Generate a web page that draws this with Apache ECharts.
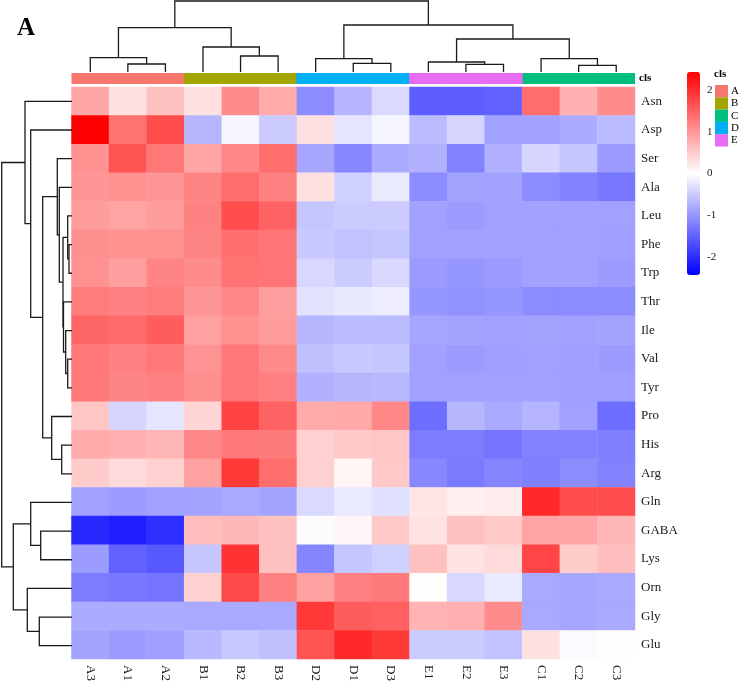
<html>
<head>
    <meta charset="utf-8">
    <title>Heatmap A</title>
    <script src="https://cdn.jsdelivr.net/npm/echarts@6/dist/echarts.min.js"></script>
    <style>
        body { margin: 0; background: #fff; }
    </style>
</head>
<body>
    <div id="main" style="width:740px;height:684px;"></div>
    <script type="text/javascript">
        // samples (columns) and their groups, in dendrogram order
        var colNames = ['A3', 'A1', 'A2', 'B1', 'B2', 'B3', 'D2', 'D1', 'D3', 'E1', 'E2', 'E3', 'C1', 'C2', 'C3'];
        var colClass = ['A', 'A', 'A', 'B', 'B', 'B', 'D', 'D', 'D', 'E', 'E', 'E', 'C', 'C', 'C'];
        var classNames = ['A', 'B', 'C', 'D', 'E'];
        var classColors = ['#F8766D', '#A3A500', '#00BF7D', '#00B0F6', '#E76BF3'];

        // amino acids (rows), in dendrogram order
        var rowNames = ['Asn', 'Asp', 'Ser', 'Ala', 'Leu', 'Phe', 'Trp', 'Thr', 'Ile', 'Val',
            'Tyr', 'Pro', 'His', 'Arg', 'Gln', 'GABA', 'Lys', 'Orn', 'Gly', 'Glu'];

        // scaled values, one row per amino acid
        var values = [
            [0.85, 0.30, 0.60, 0.30, 1.10, 0.80, -1.10, -0.72, -0.35, -1.55, -1.55, -1.50, 1.40, 0.75, 1.10],
            [2.44, 1.35, 1.70, -0.70, -0.10, -0.50, 0.30, -0.25, -0.10, -0.65, -0.40, -0.90, -0.90, -0.80, -0.65],
            [1.05, 1.65, 1.30, 0.85, 1.15, 1.40, -0.85, -1.15, -0.80, -0.75, -1.20, -0.75, -0.40, -0.55, -0.95],
            [1.00, 1.05, 1.00, 1.17, 1.40, 1.20, 0.30, -0.45, -0.20, -1.10, -0.88, -0.90, -1.10, -1.20, -1.30],
            [0.95, 0.88, 0.95, 1.20, 1.70, 1.50, -0.55, -0.50, -0.50, -0.90, -0.95, -0.90, -0.90, -0.90, -0.90],
            [1.07, 1.05, 1.05, 1.17, 1.38, 1.33, -0.52, -0.58, -0.55, -0.90, -0.90, -0.90, -0.90, -0.90, -0.92],
            [1.05, 0.92, 1.17, 1.10, 1.35, 1.33, -0.38, -0.50, -0.36, -0.97, -1.00, -0.97, -0.90, -0.90, -0.95],
            [1.25, 1.20, 1.25, 1.00, 1.15, 0.93, -0.28, -0.22, -0.17, -1.00, -1.05, -1.00, -1.10, -1.10, -1.10],
            [1.45, 1.43, 1.55, 0.90, 1.05, 0.95, -0.70, -0.65, -0.65, -0.85, -0.88, -0.90, -0.88, -0.90, -0.88],
            [1.30, 1.22, 1.30, 1.03, 1.30, 1.12, -0.60, -0.52, -0.55, -0.90, -0.95, -0.92, -0.90, -0.92, -0.95],
            [1.28, 1.17, 1.22, 1.07, 1.30, 1.22, -0.75, -0.70, -0.68, -0.90, -0.90, -0.90, -0.90, -0.92, -0.92],
            [0.55, -0.40, -0.25, 0.40, 1.80, 1.50, 0.80, 0.82, 1.15, -1.40, -0.70, -0.82, -0.72, -0.90, -1.40],
            [0.80, 0.75, 0.70, 1.15, 1.28, 1.27, 0.45, 0.52, 0.55, -1.25, -1.25, -1.33, -1.20, -1.20, -1.22],
            [0.50, 0.35, 0.45, 0.90, 1.90, 1.40, 0.45, 0.10, 0.52, -1.15, -1.27, -1.17, -1.22, -1.10, -1.20],
            [-0.90, -0.95, -0.90, -0.88, -0.82, -0.88, -0.35, -0.20, -0.30, 0.25, 0.15, 0.18, 2.05, 1.70, 1.70],
            [-2.05, -2.15, -2.00, 0.63, 0.68, 0.60, -0.03, 0.08, 0.52, 0.27, 0.60, 0.52, 0.87, 0.87, 0.70],
            [-0.95, -1.50, -1.60, -0.55, 1.95, 0.60, -1.17, -0.55, -0.45, 0.60, 0.27, 0.35, 1.78, 0.50, 0.63],
            [-1.25, -1.30, -1.33, 0.45, 1.75, 1.22, 0.90, 1.22, 1.27, 0.03, -0.38, -0.20, -0.82, -0.85, -0.82],
            [-0.80, -0.80, -0.80, -0.82, -0.82, -0.82, 1.90, 1.55, 1.52, 0.72, 0.75, 1.10, -0.82, -0.85, -0.82],
            [-0.87, -0.95, -0.92, -0.68, -0.52, -0.60, 1.65, 2.05, 1.90, -0.50, -0.50, -0.58, 0.30, -0.05, 0.02]
        ];

        // colour key range and its tick labels
        var keyMin = -2.44;
        var keyMax = 2.44;
        var keyTicks = [-2, -1, 0, 1, 2];

        // column dendrogram, hclust style: negative = leaf (1-based), positive = earlier merge
        var colMerge = [[-2, -3], [-1, 1], [-5, -6], [-4, 3], [2, 4], [-8, -9], [-7, 6],
            [-11, -12], [-10, 8], [-14, -15], [-13, 10], [9, 11], [7, 12], [5, 13]];
        var colHeight = [8, 14.3, 16, 25, 44.3, 8.7, 13.3, 7.7, 10, 6.7, 13.3, 33, 47, 71];

        // row dendrogram
        var rowMerge = [[-6, -7], [-5, 1], [-10, -11], [-9, 3], [-8, 4], [2, 5], [-4, 6], [-3, 7],
            [-13, -14], [-12, 9], [8, 10], [-2, 11], [-1, 12], [-16, -17], [-15, 14],
            [-19, -20], [-18, 16], [15, 17], [13, 18]];
        var rowHeight = [3, 4.3, 4.3, 6.3, 8.5, 9, 12.7, 14.7, 10.3, 20.3, 29.3, 41.3, 47,
            31.3, 41.3, 32.7, 44.7, 58.7, 70.3];

        var serif = '"Liberation Serif", "DejaVu Serif", serif';
        var lineColor = '#1a1a1a';

        // turn a merge table into elbow polylines; leaf k sits at k + 0.5
        function dendroLines(merge, height, sideways) {
            var nodes = [];
            var out = [];
            merge.forEach(function (m, i) {
                var p = m.map(function (c) {
                    return c < 0 ? { pos: -c - 0.5, h: 0 } : nodes[c - 1];
                });
                var h = height[i];
                var pts = [[p[0].pos, p[0].h], [p[0].pos, h], [p[1].pos, h], [p[1].pos, p[1].h]];
                if (sideways) {
                    pts = pts.map(function (q) { return [q[1], q[0]]; });
                }
                out.push({ coords: pts });
                nodes.push({ pos: (p[0].pos + p[1].pos) / 2, h: h });
            });
            return out;
        }

        var heatData = [];
        for (var r = 0; r < rowNames.length; r++) {
            for (var c = 0; c < colNames.length; c++) {
                heatData.push([c, r, values[r][c]]);
            }
        }

        var plotLeft = 71.5, plotTop = 87, plotW = 563.5, plotH = 573;

        var clsSeries = classNames.map(function (k, i) {
            return {
                name: k,
                type: 'bar',
                xAxisIndex: 1,
                yAxisIndex: 1,
                barGap: '-100%',
                barWidth: 38.6,
                itemStyle: { color: classColors[i] },
                silent: true,
                data: colClass.map(function (g) { return g === k ? 1 : '-'; })
            };
        });

        var myChart = echarts.init(document.getElementById('main'));
        var option = {
            animation: false,
            backgroundColor: '#fff',
            title: [
                {
                    text: 'A', left: 12, top: 11,
                    textStyle: { fontFamily: serif, fontSize: 25, fontWeight: 'bold', color: '#000' }
                },
                {
                    text: 'cls', left: 714, top: 69, padding: 0,
                    textStyle: { fontFamily: serif, fontSize: 11, fontWeight: 'bold', color: '#000' }
                }
            ],
            legend: {
                data: classNames,
                orient: 'vertical',
                left: 715,
                top: 85,
                padding: 0,
                itemWidth: 13,
                itemHeight: 12.3,
                itemGap: 0,
                icon: 'rect',
                selectedMode: false,
                textStyle: { fontFamily: serif, fontSize: 11, lineHeight: 12, color: '#000', padding: [0, 0, 0, -2] }
            },
            visualMap: {
                type: 'continuous',
                seriesIndex: 0,
                min: keyMin,
                max: keyMax,
                calculable: false,
                hoverLink: false,
                left: 687,
                top: 72,
                padding: 0,
                itemWidth: 13,
                itemHeight: 203,
                inRange: { color: ['#0000FF', '#FFFFFF', '#FF0000'] }
            },
            grid: [
                { left: plotLeft, top: plotTop, width: plotW, height: plotH },
                { left: plotLeft, top: 73, width: plotW, height: 11 },
                { left: plotLeft, top: 0, width: plotW, height: 72 },
                { left: 0, top: plotTop, width: 72, height: plotH },
                { left: 687, top: 72, width: 13, height: 203 }
            ],
            xAxis: [
                {
                    type: 'category', gridIndex: 0, data: colNames, position: 'bottom',
                    axisLine: { show: false }, axisTick: { show: false }, splitLine: { show: false },
                    axisLabel: { rotate: -90, margin: 6, fontFamily: serif, fontSize: 13, color: '#1a1a1a', interval: 0 }
                },
                { type: 'category', gridIndex: 1, data: colNames, show: false },
                { type: 'value', gridIndex: 2, min: 0, max: colNames.length, show: false },
                { type: 'value', gridIndex: 3, min: 0, max: 72, inverse: true, show: false },
                { type: 'value', gridIndex: 4, min: 0, max: 1, show: false }
            ],
            yAxis: [
                {
                    type: 'category', gridIndex: 0, data: rowNames, inverse: true, position: 'right',
                    axisLine: { show: false }, axisTick: { show: false }, splitLine: { show: false },
                    axisLabel: { margin: 6, fontFamily: serif, fontSize: 13, color: '#1a1a1a', interval: 0 }
                },
                {
                    type: 'value', gridIndex: 1, min: 0, max: 1, position: 'right',
                    axisLine: { show: false }, axisTick: { show: false }, splitLine: { show: false },
                    axisLabel: {
                        customValues: [0.5], margin: 4, fontFamily: serif, fontSize: 11,
                        fontWeight: 'bold', color: '#000', formatter: function () { return 'cls'; }
                    }
                },
                { type: 'value', gridIndex: 2, min: 0, max: 72, show: false },
                { type: 'value', gridIndex: 3, min: 0, max: rowNames.length, inverse: true, show: false },
                {
                    type: 'value', gridIndex: 4, min: keyMin, max: keyMax, position: 'right',
                    axisLine: { show: false }, axisTick: { show: false }, splitLine: { show: false },
                    axisLabel: { customValues: keyTicks, margin: 7, fontFamily: serif, fontSize: 11, color: '#1a1a1a' }
                }
            ],
            series: [
                {
                    type: 'heatmap',
                    xAxisIndex: 0,
                    yAxisIndex: 0,
                    data: heatData,
                    silent: true,
                    itemStyle: { borderWidth: 0 },
                    emphasis: { disabled: true }
                }
            ].concat(clsSeries).concat([
                {
                    type: 'lines',
                    coordinateSystem: 'cartesian2d',
                    xAxisIndex: 2,
                    yAxisIndex: 2,
                    polyline: true,
                    silent: true,
                    lineStyle: { color: lineColor, width: 1.3, opacity: 1 },
                    data: dendroLines(colMerge, colHeight, false)
                },
                {
                    type: 'lines',
                    coordinateSystem: 'cartesian2d',
                    xAxisIndex: 3,
                    yAxisIndex: 3,
                    polyline: true,
                    silent: true,
                    lineStyle: { color: lineColor, width: 1.3, opacity: 1 },
                    data: dendroLines(rowMerge, rowHeight, true)
                },
                {
                    type: 'scatter',
                    xAxisIndex: 4,
                    yAxisIndex: 4,
                    data: []
                }
            ])
        };
        myChart.setOption(option);
    </script>
</body>
</html>
